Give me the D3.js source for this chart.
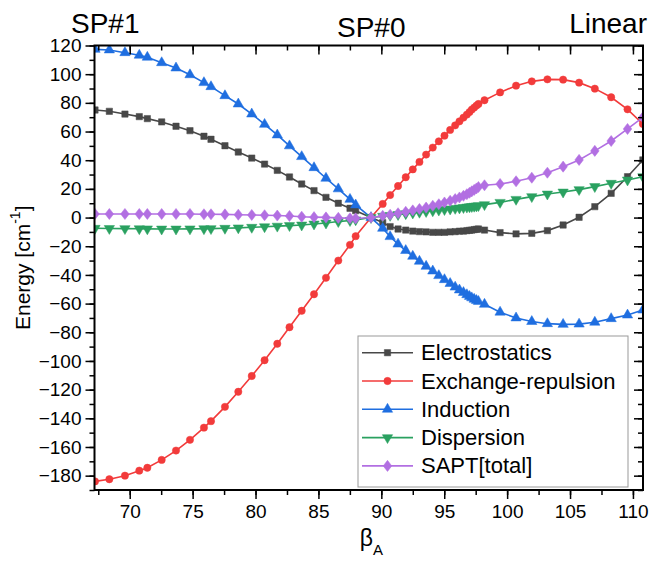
<!DOCTYPE html>
<html>
<head>
<meta charset="utf-8">
<script src="https://cdn.jsdelivr.net/npm/d3@7"></script>
<style>
  body { margin: 0; background: #fff; }
  svg text { font-family: Arial, "Liberation Sans", sans-serif; fill: #000; }
</style>
</head>
<body>
<svg id="chart" width="651" height="564"></svg>
<script>
// beta_A values (degrees) shared by all series
const beta = [67.24, 68.38, 69.62, 70.76, 71.4, 72.54, 73.68, 74.79, 75.9, 76.46, 77.57, 78.63, 79.7,
  80.72, 81.73, 82.7, 83.67, 84.65, 85.6, 86.58, 87.51, 87.96, 89.18,
  90.11, 90.7, 91.33, 91.94, 92.5, 93.03, 93.56, 94.09, 94.57, 95.02, 95.47, 95.87, 96.21, 96.53,
  96.8, 97.01, 97.19, 97.38, 97.56, 97.72, 98.2,
  99.44, 100.71, 101.96, 103.2, 104.45, 105.72, 106.97, 108.27, 109.57, 110.79]

const electrostatics = [75, 74.1, 72.2, 70.4, 69, 66.7, 63.7, 60.6, 56.7, 54.6, 50.1, 45.7, 41.5,
  37.3, 32.9, 28.3, 23.4, 18.8, 14.1, 10, 6.5, 4.8, 0,
  -3.5, -6.3, -8, -8.7, -9.4, -9.8, -10, -10.3, -10.3, -10.3, -10, -9.8, -9.5, -9.4,
  -9.1, -8.9, -8.7, -8.4, -8.2, -8, -8.7,
  -10.5, -11.4, -11, -9.1, -5.2, 0.2, 7.6, 16.9, 28.5, 40.2]

const exchange = [-184, -182.5, -180, -176.5, -174.5, -169, -162.5, -155, -146.5, -142, -132, -121.5, -110.5,
  -99.5, -88, -76.5, -65, -53.5, -42, -30, -19, -13, 0,
  9.5, 15.7, 22, 28.1, 33.6, 38.8, 43.9, 48.8, 53.2, 57.1, 61.1, 64.3, 67.1, 69.7,
  71.8, 73.6, 75.3, 76.7, 78.1, 79.2, 81.8,
  87.3, 92, 95, 96.4, 96.2, 94.1, 89.9, 83.9, 75.5, 65.3]

const induction = [117.3, 116.9, 115, 113.2, 111.8, 108, 104.3, 99.6, 94.1, 91.3, 85, 79.2, 72.2,
  65, 57.6, 50, 42.5, 34.8, 27.4, 20, 12.7, 8.8, 0,
  -7.5, -13.3, -18.5, -23, -27, -30.5, -34, -37.3, -40.5, -43.3, -46, -48.5, -50.5, -52.3,
  -53.8, -55, -56, -57, -57.8, -58.5, -60.5,
  -66, -70, -72.5, -74, -74.5, -74.3, -73, -70.5, -68, -64.5]

const dispersion = [-7.5, -7.6, -7.7, -7.8, -7.9, -8, -8, -7.9, -7.8, -7.7, -7.5, -7.2, -6.8,
  -6.4, -6, -5.6, -5.2, -4.5, -3.8, -2.8, -2.1, -1.6, 0,
  0.9, 1.5, 2.1, 2.7, 3.2, 3.7, 4.2, 4.7, 5.2, 5.6, 6, 6.4, 6.7, 7,
  7.3, 7.5, 7.7, 7.9, 8.1, 8.3, 9,
  10.6, 12.7, 14.6, 16.4, 17.8, 19.5, 21.6, 23.9, 26.2, 28.5]

const saptTotal = [2.5, 2.5, 2.5, 2.5, 2.5, 2.5, 2.5, 2.5, 2.3, 2.3, 2.2, 2, 1.8,
  1.6, 1.4, 1.1, 0.6, 0.3, 0.1, -0.2, -0.5, -0.6, 0,
  1.2, 2, 3, 4, 5, 6, 7, 8.2, 9.3, 10.5, 11.7, 12.9, 14, 15.2,
  16.3, 17.3, 18.3, 19.3, 20.3, 21.3, 22.5,
  23.4, 25.3, 27.8, 31.3, 35.5, 40.2, 46.5, 53.4, 61.8, 69.9]

const seriesNames = ['Electrostatics', 'Exchange-repulsion', 'Induction', 'Dispersion', 'SAPT[total]']
const seriesValues = [electrostatics, exchange, induction, dispersion, saptTotal]
const seriesColors = ['#484848', '#f23b3b', '#1f6ee0', '#2aa160', '#b26fe2']
const seriesSymbols = ['square', 'circle', 'up', 'down', 'diamond']

const xTicks = [70, 75, 80, 85, 90, 95, 100, 105, 110]
const yTicks = d3.range(-180, 121, 20)
const topLabels = ['SP#1', 'SP#0', 'Linear']

const svg = d3.select('#chart')
const margin = {left: 94.5, right: 8, top: 45.5, bottom: 74}
const width = 651 - margin.left - margin.right
const height = 564 - margin.top - margin.bottom

const x = d3.scaleLinear().domain([67.2, 110.8]).range([margin.left, margin.left + width])
const y = d3.scaleLinear().domain([-190, 120]).range([margin.top + height, margin.top])

// markers
function drawMarker(parent, sym, color, cx, cy) {
  let d, tf = `translate(${cx},${cy})`
  if (sym === 'square') d = d3.symbol(d3.symbolSquare, 40)()
  else if (sym === 'circle') d = d3.symbol(d3.symbolCircle, 42)()
  else if (sym === 'up') d = d3.symbol(d3.symbolTriangle, 46)()
  else if (sym === 'down') { d = d3.symbol(d3.symbolTriangle, 46)(); tf += ' rotate(180)' }
  else { d = d3.symbol(d3.symbolDiamond, 44)(); tf += ' scale(1.2,0.9)' }
  parent.append('path').attr('d', d).attr('transform', tf)
    .attr('fill', color).attr('stroke', color).attr('stroke-width', 0.5)
}

svg.append('clipPath').attr('id', 'plotclip').append('rect')
  .attr('x', margin.left).attr('y', margin.top).attr('width', width).attr('height', height)

// series
const line = d3.line().x(d => x(d[0])).y(d => y(d[1]))
const g = svg.append('g').attr('class', 'series')
seriesValues.forEach((vals, i) => {
  const pts = beta.map((b, j) => [b, vals[j]])
  const sg = g.append('g').attr('clip-path', 'url(#plotclip)')
  sg.append('path').datum(pts).attr('d', line)
    .attr('fill', 'none').attr('stroke', seriesColors[i]).attr('stroke-width', 1.6)
  pts.forEach(p => drawMarker(sg, seriesSymbols[i], seriesColors[i], x(p[0]), y(p[1])))
})

// axes
const axisG = svg.append('g').attr('class', 'axes')
const fs = 19
const xMinor = d3.range(67.5, 110.9, 2.5)
const yMinor = d3.range(-190, 121, 10)

const axB = axisG.append('g').attr('transform', `translate(0,${margin.top + height})`)
axB.append('g').call(d3.axisBottom(x).tickValues(xMinor).tickSize(5).tickFormat(''))
axB.append('g').call(d3.axisBottom(x).tickValues(xTicks).tickSize(9).tickPadding(6))
  .selectAll('text').attr('font-size', fs)

const axT = axisG.append('g').attr('transform', `translate(0,${margin.top})`)
axT.append('g').call(d3.axisTop(x).tickValues(xMinor).tickSize(-5).tickFormat(''))
axT.append('g').call(d3.axisTop(x).tickValues(xTicks).tickSize(-9).tickFormat(''))

const axL = axisG.append('g').attr('transform', `translate(${margin.left},0)`)
axL.append('g').call(d3.axisLeft(y).tickValues(yMinor).tickSize(5).tickFormat(''))
axL.append('g').call(d3.axisLeft(y).tickValues(yTicks).tickSize(9).tickPadding(4))
  .selectAll('text').attr('font-size', fs)

const axR = axisG.append('g').attr('transform', `translate(${margin.left + width},0)`)
axR.append('g').call(d3.axisRight(y).tickValues(yMinor).tickSize(-5).tickFormat(''))
axR.append('g').call(d3.axisRight(y).tickValues(yTicks).tickSize(-9).tickFormat(''))

axisG.selectAll('.domain').remove()
axisG.selectAll('.tick line').attr('stroke', '#000').attr('stroke-width', 1.5)
axisG.selectAll('.tick text').attr('fill', '#000').attr('font-family', 'Arial, "Liberation Sans", sans-serif')
axisG.append('rect').attr('x', margin.left).attr('y', margin.top).attr('width', width).attr('height', height)
  .attr('fill', 'none').attr('stroke', '#000').attr('stroke-width', 2)

// labels
const ymid = margin.top + height / 2
svg.append('text').attr('x', 24).attr('y', ymid)
  .attr('transform', `rotate(-90,24,${ymid})`).attr('text-anchor', 'middle')
  .attr('dominant-baseline', 'middle').attr('font-size', 21)
  .html('Energy [cm<tspan baseline-shift="super" font-size="14">-1</tspan>]')

svg.append('text').attr('x', x(89.2)).attr('y', 546).attr('text-anchor', 'middle').attr('font-size', 23)
  .html('β<tspan baseline-shift="sub" font-size="15">A</tspan>')

svg.append('text').attr('x', 71).attr('y', 33).attr('font-size', 28).text(topLabels[0])
svg.append('text').attr('x', x(89.2)).attr('y', 37).attr('text-anchor', 'middle').attr('font-size', 28).text(topLabels[1])
svg.append('text').attr('x', 647).attr('y', 33).attr('text-anchor', 'end').attr('font-size', 28).text(topLabels[2])

// legend
const lg = svg.append('g').attr('class', 'legend')
lg.append('rect').attr('x', 358).attr('y', 336).attr('width', 270).attr('height', 151)
  .attr('fill', '#fff').attr('stroke', '#999').attr('stroke-width', 1)
seriesNames.forEach((name, i) => {
  const ly = 352.7 + i * 28.3
  lg.append('line').attr('x1', 362).attr('x2', 413).attr('y1', ly).attr('y2', ly)
    .attr('stroke', seriesColors[i]).attr('stroke-width', 1.6)
  drawMarker(lg, seriesSymbols[i], seriesColors[i], 387.5, ly)
  lg.append('text').attr('x', 421).attr('y', ly).attr('dominant-baseline', 'central')
    .attr('font-size', 22).text(name)
})
</script>
</body>
</html>
